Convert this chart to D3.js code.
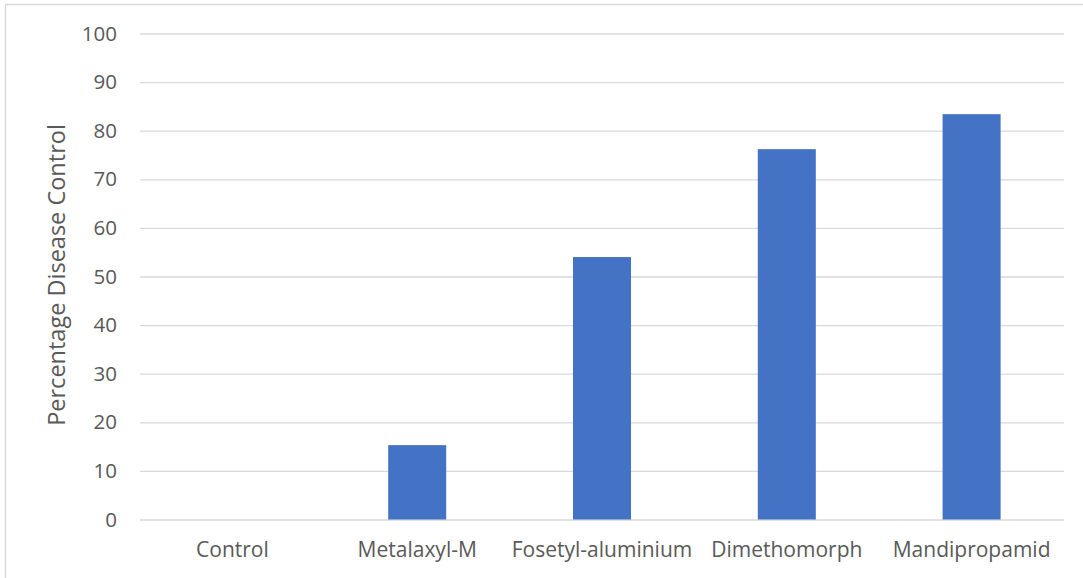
<!DOCTYPE html>
<html>
<head>
<meta charset="utf-8">
<script src="https://cdn.jsdelivr.net/npm/d3@7"></script>
<style>
  html, body { margin: 0; padding: 0; background: #fff; }
  svg { display: block; }
  text { font-family: "Open Sans", sans-serif; fill: #595959; }
</style>
</head>
<body>
<svg id="chart" width="1083" height="578"></svg>
<script>
// Fungicide treatments and their percentage disease control
const categories = ["Control", "Metalaxyl-M", "Fosetyl-aluminium", "Dimethomorph", "Mandipropamid"];
const values = [0, 15.3, 54.0, 76.2, 83.4];
const yTicks = [0, 10, 20, 30, 40, 50, 60, 70, 80, 90, 100];
const yTitle = "Percentage Disease Control";

const svg = d3.select("#chart");
const plot = { left: 140, right: 1064, top: 33.5, bottom: 519.5 };

// chart area frame
svg.append("rect")
  .attr("x", 5.5).attr("y", 4.5)
  .attr("width", 1090).attr("height", 590)
  .attr("fill", "none").attr("stroke", "#d9d9d9").attr("stroke-width", 1.5);

const x = d3.scaleBand()
  .domain(categories)
  .range([plot.left, plot.right])
  .paddingInner(0.686)
  .paddingOuter(0.343);

const y = d3.scaleLinear().domain([0, 100]).range([plot.bottom, plot.top]);

// horizontal gridlines with value labels
const yAxis = d3.axisLeft(y)
  .tickValues(yTicks)
  .tickSize(-(plot.right - plot.left))
  .tickPadding(23);
const gy = svg.append("g").attr("transform", `translate(${plot.left},0)`).call(yAxis);
gy.select(".domain").remove();
gy.selectAll(".tick line").attr("stroke", "#d9d9d9").attr("stroke-width", 1.3);
gy.selectAll(".tick text").attr("font-size", 20.5).attr("fill", "#595959");

// bars
svg.append("g").selectAll("rect")
  .data(categories.map((c, i) => ({ c, v: values[i] })))
  .join("rect")
  .attr("x", d => x(d.c))
  .attr("y", d => y(d.v))
  .attr("width", x.bandwidth())
  .attr("height", d => y(0) - y(d.v))
  .attr("fill", "#4472c4");

// category labels
const xAxis = d3.axisBottom(x).tickSize(0).tickPadding(23);
const gx = svg.append("g").attr("transform", `translate(0,${plot.bottom})`).call(xAxis);
gx.select(".domain").remove();
gx.selectAll(".tick text").attr("font-size", 21).attr("fill", "#595959");

// y-axis title
svg.append("text")
  .attr("transform", `translate(65,275) rotate(-90)`)
  .attr("text-anchor", "middle")
  .attr("font-size", 23.5)
  .text(yTitle);
</script>
</body>
</html>
